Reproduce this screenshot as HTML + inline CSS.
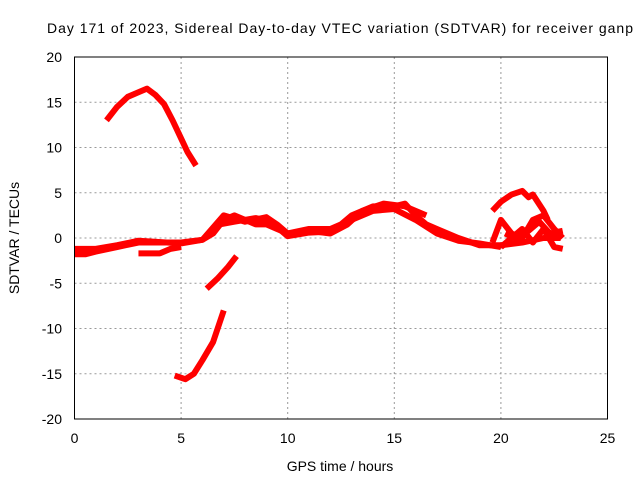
<!DOCTYPE html>
<html><head><meta charset="utf-8"><style>
body{margin:0;background:#fff}
svg text{font-family:"Liberation Sans",sans-serif;font-size:14px;fill:#000}
</style></head><body>
<svg id="chart" width="640" height="480" xmlns="http://www.w3.org/2000/svg">
<text x="47" y="33" textLength="586" lengthAdjust="spacing" style="font-size:14px">Day 171 of 2023, Sidereal Day-to-day VTEC variation (SDTVAR) for receiver ganp</text>
<g id="grid"></g>
<g id="series"></g>
<rect x="74.5" y="57" width="533" height="362" fill="none" stroke="#000" stroke-width="1"/>
<g id="ticks"></g>
<text x="340" y="471" text-anchor="middle">GPS time / hours</text>
<text transform="translate(19,238) rotate(-90)" text-anchor="middle">SDTVAR / TECUs</text>
</svg>
<script>
const xTicks=[0,5,10,15,20,25];
const yTicks=[-20,-15,-10,-5,0,5,10,15,20];
const arcSeg=[[1.5,13],[2,14.5],[2.5,15.6],[3,16.1],[3.4,16.5],[3.8,15.8],[4.2,14.8],[4.6,13],[5,11],[5.3,9.5],[5.7,8]];
const lowSeg=[[4.7,-15.2],[5.2,-15.6],[5.6,-15],[6,-13.5],[6.5,-11.5],[7,-8]];
const midSeg=[[6.2,-5.6],[6.7,-4.5],[7.2,-3.2],[7.6,-2]];
const mainSeg=[[0,-1.8],[0.5,-1.8],[1,-1.5],[2,-1],[3,-0.5],[4,-0.5],[5,-0.5],[6,-0.2],[6.5,0.5],[7,2],[7.5,2.5],[8,2],[8.5,1.5],[9,1.5],[9.5,1],[10,0.5],[11,1],[12,1],[12.5,1.5],[13,2.5],[14,3.5],[15,3.5],[15.5,3.8],[16,2.5],[16.5,1.5],[17,1],[18,0],[19,-0.8],[20,-0.8],[21,-0.5],[22,0],[22.8,0]];
const mainSeg2=[[0,-1.2],[1,-1.2],[2,-0.8],[3,-0.3],[5,-0.6],[6,-0.2],[7,2.5],[8,1.8],[9,2.3],[9.5,1.5],[10,0.5],[11,0.8],[12,0.5],[12.8,1.5],[13.5,3],[14.5,3.8],[15.5,3.5],[16.5,2.5]];
const mainSeg3=[[6.8,1.5],[7.5,1.8],[8.5,2.2],[9.2,1.8],[10,0.2],[11,0.6],[12,0.7],[13,2],[14,3],[15,3.2],[16,2],[17,0.5],[18,-0.3],[19,-0.6],[20,-1]];
const subSeg=[[3,-1.7],[4,-1.7],[4.5,-1.2],[5,-1]];
const rightArc=[[19.6,3],[20,4],[20.5,4.8],[21,5.2],[21.3,4.5],[21.5,4.8],[22,3],[22.2,2]];
const rightLoop1=[[19.6,-0.5],[20,2],[20.5,0.5],[21,0],[21.5,2],[22,2.5],[22.5,1],[22.9,0]];
const rightLoop2=[[20,-1],[21,1],[21.5,-0.5],[22,1],[22.5,-1],[22.9,-1.2]];
const rightLoop3=[[20.2,0.5],[20.8,-0.2],[21.3,0.8],[21.8,1.8],[22.3,0.5],[22.9,0.8]];
const segments=[arcSeg,lowSeg,midSeg,mainSeg,mainSeg2,mainSeg3,subSeg,rightArc,rightLoop1,rightLoop2,rightLoop3];
const X=v=>74.5+v*21.32, Y=v=>238-v*9.05;
const NS="http://www.w3.org/2000/svg";
const grid=document.getElementById('grid'),ticks=document.getElementById('ticks'),ser=document.getElementById('series');
xTicks.forEach(t=>{
 if(t>0&&t<25){const l=document.createElementNS(NS,'line');
 
 
 l.setAttribute('x1',X(t));l.setAttribute('x2',X(t));l.setAttribute('y1',57);l.setAttribute('y2',419);
 l.setAttribute('stroke','#999');l.setAttribute('stroke-dasharray','2,3');grid.appendChild(l);}
 const tx=document.createElementNS(NS,'text');
 
 
 tx.setAttribute('x',X(t));tx.setAttribute('y',443);tx.setAttribute('text-anchor','middle');tx.textContent=t;ticks.appendChild(tx);
});
yTicks.forEach(t=>{
 if(t>-20&&t<20){const l=document.createElementNS(NS,'line');
 
 
 l.setAttribute('x1',74.5);l.setAttribute('x2',607.5);l.setAttribute('y1',Y(t));l.setAttribute('y2',Y(t));
 l.setAttribute('stroke','#999');l.setAttribute('stroke-dasharray','2,3');grid.appendChild(l);}
 const tx=document.createElementNS(NS,'text');
 
 
 tx.setAttribute('x',62);tx.setAttribute('y',Y(t)+5);tx.setAttribute('text-anchor','end');tx.textContent=t;ticks.appendChild(tx);
});
segments.forEach(s=>{
 const p=document.createElementNS(NS,'polyline');
 
 
 p.setAttribute('points',s.map(d=>X(d[0])+','+Y(d[1])).join(' '));
 p.setAttribute('fill','none');p.setAttribute('stroke','#f00');p.setAttribute('stroke-width',6);p.setAttribute('stroke-linejoin','round');
 ser.appendChild(p);
});
</script>
</body></html>
